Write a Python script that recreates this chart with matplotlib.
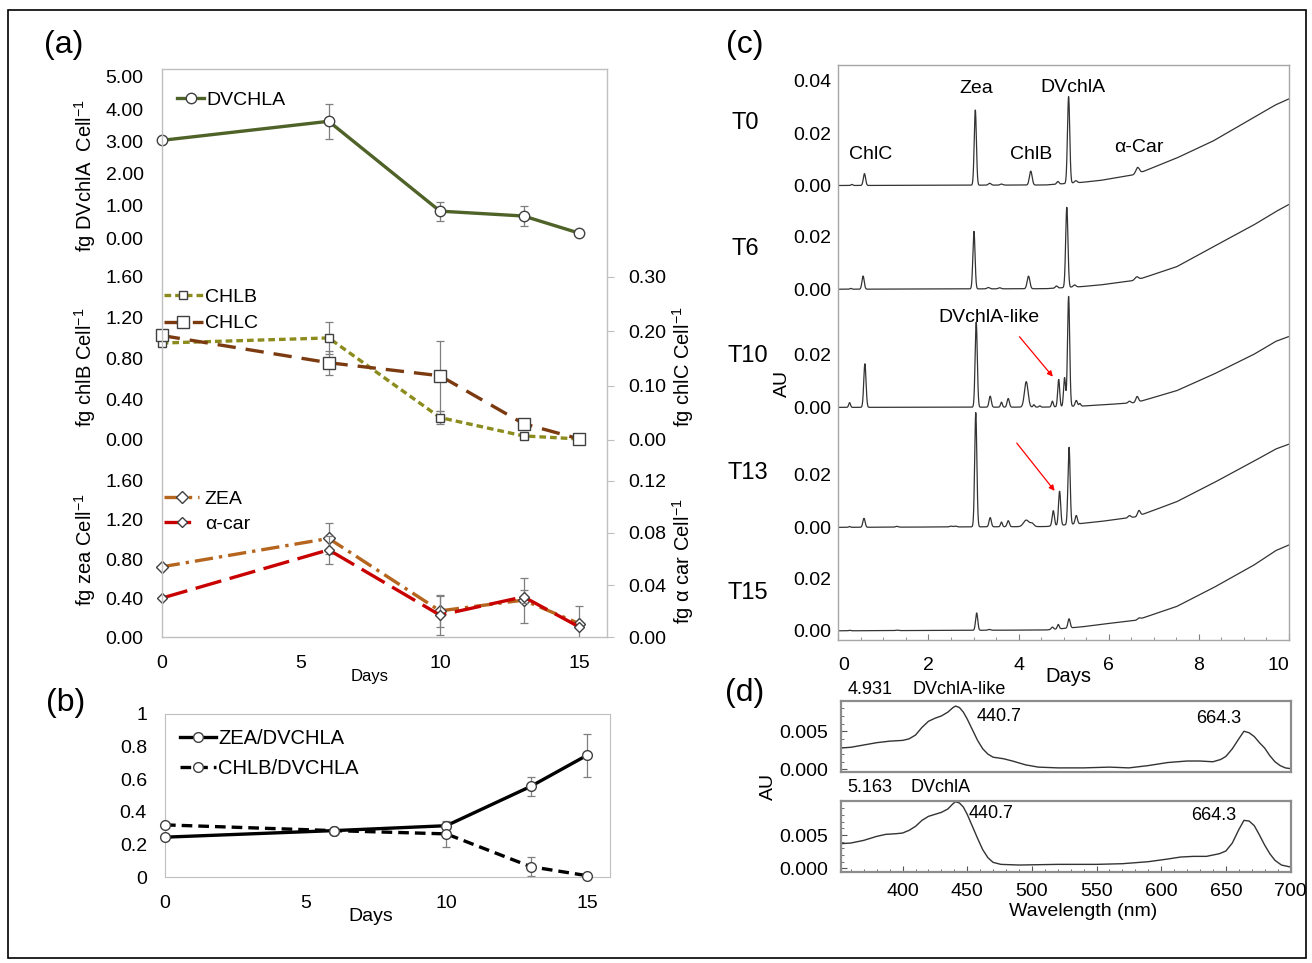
import numpy as np
import matplotlib
matplotlib.use('Agg')
import matplotlib.pyplot as plt
from matplotlib.patches import Rectangle

plt.rcParams['font.family'] = ['Liberation Sans', 'DejaVu Sans']
plt.rcParams['mathtext.fontset'] = 'custom'
plt.rcParams['mathtext.rm'] = 'Liberation Sans'
plt.rcParams['mathtext.it'] = 'Liberation Sans:italic'

# ---------------- data ----------------
days = [0, 6, 10, 13, 15]
dvchla = [3.03, 3.62, 0.84, 0.69, 0.16]
dvchla_err = [0, 0.55, 0.29, 0.31, 0]
chlb = [0.95, 1.00, 0.22, 0.04, 0.01]
chlb_err = [0, 0.16, 0.06, 0, 0]
chlc = [0.192, 0.142, 0.118, 0.030, 0.002]
chlc_err = [0, 0.022, 0.064, 0, 0]
zea = [0.72, 1.01, 0.27, 0.38, 0.14]
zea_err = [0, 0.16, 0.16, 0.23, 0.18]
acar = [0.030, 0.067, 0.017, 0.031, 0.008]
acar_err = [0, 0.011, 0.015, 0.005, 0]

ratio_zea = [0.245, 0.285, 0.315, 0.555, 0.745]
ratio_zea_err = [0, 0, 0, 0.056, 0.13]
ratio_chlb = [0.32, 0.285, 0.265, 0.065, 0.01]
ratio_chlb_err = [0, 0, 0.08, 0.057, 0]

# chromatograms: baseline points and peak tables (retention time, height, width)
base_t = [0, 4.6, 5.4, 5.8, 6.6, 7.5, 8.3, 9.2, 9.7, 10.0]
traces = ['T0', 'T6', 'T10', 'T13', 'T15']
base_v = {
    'T0': [0, 0.0002, 0.0012, 0.0019, 0.0042, 0.0104, 0.0168, 0.0257, 0.0307, 0.0330],
    'T6': [0, 0.0002, 0.0010, 0.0016, 0.0034, 0.0085, 0.0160, 0.0243, 0.0295, 0.0323],
    'T10': [0, 0.0001, 0.0005, 0.0009, 0.0018, 0.0063, 0.0124, 0.0200, 0.0251, 0.0270],
    'T13': [0, 0.0003, 0.0015, 0.0022, 0.0040, 0.0097, 0.0167, 0.0250, 0.0298, 0.0317],
    'T15': [0, 0.0003, 0.0015, 0.0024, 0.0040, 0.0092, 0.0162, 0.0248, 0.0305, 0.0327],
}
peak_t = {
    'T0': [0.30, 0.58, 3.04, 3.36, 3.62, 4.27, 4.87, 5.11, 5.27, 6.64],
    'T6': [0.28, 0.55, 3.01, 3.33, 3.58, 4.22, 4.84, 5.07, 5.24, 6.62],
    'T10': [0.25, 0.59, 3.06, 3.37, 3.62, 3.77, 4.17, 4.34, 4.47, 4.75, 4.89, 5.02, 5.11, 5.28, 5.36, 6.46, 6.63],
    'T13': [0.25, 0.57, 1.30, 2.50, 2.60, 3.05, 3.37, 3.62, 3.77, 4.17, 4.30, 4.77, 4.91, 5.12, 5.28, 6.46, 6.67],
    'T15': [0.25, 1.30, 3.07, 3.35, 4.75, 4.88, 5.12, 6.67],
}
peak_h = {
    'T0': [0.0004, 0.0045, 0.0286, 0.0007, 0.0004, 0.0053, 0.0010, 0.0330, 0.0008, 0.0024],
    'T6': [0.0003, 0.0050, 0.0219, 0.0005, 0.0004, 0.0048, 0.0008, 0.0305, 0.0008, 0.0012],
    'T10': [0.0018, 0.0166, 0.0324, 0.0042, 0.0019, 0.0033, 0.0097, 0.0009, 0.0005, 0.0022, 0.0104, 0.0110, 0.0419, 0.0022, 0.0010, 0.0007, 0.0022],
    'T13': [0.0003, 0.0034, 0.0003, 0.0003, 0.0003, 0.0435, 0.0035, 0.0018, 0.0023, 0.0025, 0.0012, 0.0058, 0.0130, 0.0294, 0.0032, 0.0008, 0.0020],
    'T15': [0.0002, 0.0002, 0.0066, 0.0003, 0.0009, 0.0017, 0.0035, 0.0005],
}
peak_w = {
    'T0': [0.02, 0.025, 0.024, 0.03, 0.03, 0.03, 0.025, 0.025, 0.03, 0.04],
    'T6': [0.02, 0.025, 0.024, 0.03, 0.03, 0.03, 0.025, 0.025, 0.03, 0.04],
    'T10': [0.02, 0.025, 0.024, 0.025, 0.02, 0.025, 0.04, 0.02, 0.02, 0.02, 0.022, 0.022, 0.024, 0.025, 0.02, 0.03, 0.03],
    'T13': [0.02, 0.025, 0.03, 0.03, 0.03, 0.024, 0.025, 0.02, 0.025, 0.06, 0.04, 0.025, 0.024, 0.024, 0.025, 0.03, 0.03],
    'T15': [0.02, 0.03, 0.024, 0.03, 0.025, 0.022, 0.025, 0.03],
}
trace_zero = {'T0': 0.1731, 'T6': 0.1336, 'T10': 0.0886, 'T13': 0.0429, 'T15': 0.0035}
trace_ticks = {'T0': [0, 0.02, 0.04], 'T6': [0, 0.02], 'T10': [0, 0.02], 'T13': [0, 0.02], 'T15': [0, 0.02]}

# spectra (wavelength nm, AU)
spec_like_wl = [352, 360, 370, 380, 390, 400, 405, 410, 415, 420, 425, 430, 435, 439, 441, 444, 447, 450,
                454, 458, 462, 466, 470, 478, 485, 495, 505, 520, 540, 560, 575, 590, 605, 620, 630, 640,
                646, 650, 655, 660, 664, 668, 672, 676, 680, 684, 688, 692, 696, 700]
spec_like = [0.0028, 0.0029, 0.0032, 0.0035, 0.0037, 0.0038, 0.0040, 0.0045, 0.0055, 0.0063, 0.0067, 0.0070,
             0.0075, 0.0081, 0.0083, 0.0081, 0.0075, 0.0066, 0.0052, 0.0038, 0.0027, 0.0020, 0.0016, 0.0014,
             0.0011, 0.0006, 0.0003, 0.0002, 0.0002, 0.0003, 0.0002, 0.0005, 0.0009, 0.0011, 0.0011, 0.0010,
             0.0013, 0.0017, 0.0027, 0.0040, 0.0050, 0.0048, 0.0043, 0.0035, 0.0028, 0.0018, 0.0010, 0.0005,
             0.0002, 0.0001]
spec_dv_wl = [352, 360, 370, 380, 387, 395, 400, 405, 410, 415, 420, 425, 430, 435, 439, 441, 444, 447, 450,
              454, 458, 462, 466, 470, 476, 490, 520, 550, 570, 590, 605, 615, 625, 635, 645, 650, 655, 660,
              664, 668, 672, 676, 680, 684, 688, 693, 700]
spec_dv = [0.0037, 0.0038, 0.0042, 0.0048, 0.0051, 0.0052, 0.0053, 0.0057, 0.0063, 0.0072, 0.0078, 0.0081,
           0.0084, 0.0089, 0.0097, 0.0100, 0.0098, 0.0092, 0.0081, 0.0063, 0.0045, 0.0028, 0.0016, 0.0009,
           0.0006, 0.0005, 0.0006, 0.0006, 0.0007, 0.0010, 0.0014, 0.0017, 0.0018, 0.0018, 0.0022, 0.0026,
           0.0038, 0.0058, 0.0072, 0.0071, 0.0064, 0.0050, 0.0035, 0.0022, 0.0012, 0.0005, 0.0002]

# ---------------- figure ----------------
W, H = 1312, 963
fig = plt.figure(figsize=(W / 100, H / 100), dpi=100)


def box(l, t, r, b, **kw):
    return fig.add_axes([l / W, 1 - b / H, (r - l) / W, (b - t) / H], **kw)


def ftext(x, y, s, **kw):
    kw.setdefault('ha', 'center')
    kw.setdefault('va', 'center')
    return fig.text(x / W, 1 - y / H, s, **kw)


fig.patches.append(Rectangle((8 / W, 1 - 958 / H), 1298 / W, 948 / H, transform=fig.transFigure,
                             fill=False, ec='black', lw=1.2))

GRAY = '#BFBFBF'
ERR = '#7F7F7F'
MEC = '#404040'
TFS = 14


def clean(ax):
    ax.set_facecolor('none')
    for s in ax.spines.values():
        s.set_visible(False)


def errs(ax, x, y, e, color=ERR):
    idx = [i for i, v in enumerate(e) if v > 0]
    ax.errorbar([x[i] for i in idx], [y[i] for i in idx], yerr=[e[i] for i in idx], fmt='none',
                ecolor=color, elinewidth=0.9, capsize=3, capthick=0.9, zorder=2)


# ---- panel (a) ----
aL, aR = 161.7, 607
ta = box(aL, 76.7, aR, 238.3)
ma = box(aL, 276.7, aR, 440)
ba = box(aL, 480.7, aR, 637.3)
for ax in (ta, ma, ba):
    clean(ax)
    ax.set_xlim(0, 16)
    ax.tick_params(axis='y', length=0, pad=13, labelsize=TFS)
ta.set_ylim(0, 5)
ta.set_yticks([0, 1, 2, 3, 4, 5])
ta.set_yticklabels([f'{v:.2f}' for v in [0, 1, 2, 3, 4, 5]])
ma.set_ylim(0, 1.6)
ba.set_ylim(0, 1.6)
for ax in (ma, ba):
    ax.set_yticks([0, 0.4, 0.8, 1.2, 1.6])
    ax.set_yticklabels([f'{v:.2f}' for v in [0, 0.4, 0.8, 1.2, 1.6]])
ta.set_xticks([])
ma.set_xticks([])
ba.set_xticks([0, 5, 10, 15])
ba.tick_params(axis='x', length=0, pad=13, labelsize=TFS)

errs(ta, days, dvchla, dvchla_err)
ta.plot(days, dvchla, color='#4F6228', lw=2.4, marker='o', ms=7.5, mfc='white', mec=MEC, mew=1,
        clip_on=False, label='DVCHLA', zorder=3)
ta.legend(loc='upper left', bbox_to_anchor=(177 / W, 1 - 91.5 / H), bbox_transform=fig.transFigure,
          frameon=False, fontsize=14, handlelength=1.4, handletextpad=0.1, borderpad=0, borderaxespad=0)

mr = ma.twinx()
clean(mr)
mr.set_ylim(0, 0.30)
mr.set_yticks([0, 0.1, 0.2, 0.3])
mr.set_yticklabels([f'{v:.2f}' for v in [0, 0.1, 0.2, 0.3]])
mr.tick_params(axis='y', length=5, color=GRAY, pad=10, labelsize=TFS)
errs(ma, days, chlb, chlb_err)
errs(mr, days, chlc, chlc_err)
l1, = ma.plot(days, chlb, color='#8C8C1E', lw=2.4, dashes=(2.0, 1.2), marker='s', ms=5.5, mfc='white',
              mec=MEC, mew=1, clip_on=False, label='CHLB', zorder=3)
l2, = mr.plot(days, chlc, color='#7B3A10', lw=2.4, dashes=(5.5, 3.0), marker='s', ms=8.5, mfc='white',
              mec=MEC, mew=1, clip_on=False, label='CHLC', zorder=3)
mr.legend([l1, l2], ['CHLB', 'CHLC'], loc='upper left', bbox_to_anchor=(164 / W, 1 - 288.5 / H),
          bbox_transform=fig.transFigure, frameon=False, fontsize=14, handlelength=2.0, handletextpad=0.1,
          labelspacing=0.45, borderpad=0, borderaxespad=0)

br = ba.twinx()
clean(br)
br.set_ylim(0, 0.12)
br.set_yticks([0, 0.04, 0.08, 0.12])
br.set_yticklabels([f'{v:.2f}' for v in [0, 0.04, 0.08, 0.12]])
br.tick_params(axis='y', length=5, color=GRAY, pad=10, labelsize=TFS)
errs(ba, days, zea, zea_err)
errs(br, days, acar, acar_err)
l3, = ba.plot(days, zea, color='#B5651D', lw=2.4, dashes=(5.5, 1.8, 1.0, 1.8), marker='D', ms=6.6,
              mfc='white', mec=MEC, mew=1, clip_on=False, label='ZEA', zorder=3)
l4, = br.plot(days, acar, color='#C80000', lw=2.4, dashes=(8, 2.6), marker='D', ms=4.8, mfc='white',
              mec=MEC, mew=1, clip_on=False, label='α-car', zorder=3)
br.legend([l3, l4], ['ZEA', 'α-car'], loc='upper left', bbox_to_anchor=(164 / W, 1 - 490.5 / H),
          bbox_transform=fig.transFigure, frameon=False, fontsize=14, handlelength=1.8, handletextpad=0.3,
          labelspacing=0.35, borderpad=0, borderaxespad=0)

afr = box(aL, 69, aR, 637.3)
afr.set_facecolor('none')
afr.set_xticks([])
afr.set_yticks([])
for s in afr.spines.values():
    s.set_color(GRAY)
    s.set_linewidth(1.0)

YFS = 14.5
ftext(85, 175, 'fg DVchlA  Cell$^{\\mathrm{-1}}$', rotation=90, fontsize=YFS)
ftext(85, 367, 'fg chlB Cell$^{\\mathrm{-1}}$', rotation=90, fontsize=YFS)
ftext(85, 550, 'fg zea Cell$^{\\mathrm{-1}}$', rotation=90, fontsize=YFS)
ftext(683, 367, 'fg chlC Cell$^{\\mathrm{-1}}$', rotation=90, fontsize=YFS)
ftext(683, 561, 'fg α car Cell$^{\\mathrm{-1}}$', rotation=90, fontsize=YFS)
ftext(370, 676, 'Days', fontsize=12)
ftext(64, 45, '(a)', fontsize=23)

# ---- panel (b) ----
bx = box(165, 713.5, 609.5, 877.3)
bx.set_facecolor('none')
bx.set_xlim(0, 15.8)
bx.set_ylim(0, 1)
for s in bx.spines.values():
    s.set_color(GRAY)
bx.set_xticks([0, 5, 10, 15])
bx.set_yticks([0, 0.2, 0.4, 0.6, 0.8, 1.0])
bx.set_yticklabels(['0', '0.2', '0.4', '0.6', '0.8', '1'])
bx.tick_params(axis='both', length=0, labelsize=TFS)
bx.tick_params(axis='y', pad=13)
bx.tick_params(axis='x', pad=13)
errs(bx, days, ratio_zea, ratio_zea_err)
errs(bx, days, ratio_chlb, ratio_chlb_err)
bx.plot(days, ratio_zea, color='black', lw=2.4, marker='o', ms=7, mfc='white', mec=MEC, mew=1,
        clip_on=False, label='ZEA/DVCHLA', zorder=3)
bx.plot(days, ratio_chlb, color='black', lw=2.4, dashes=(3.2, 1.8), marker='o', ms=7, mfc='white', mec=MEC,
        mew=1, clip_on=False, label='CHLB/DVCHLA', zorder=3)
bx.legend(loc='upper left', bbox_to_anchor=(180 / W, 1 - 729 / H), bbox_transform=fig.transFigure,
          frameon=False, fontsize=14.5, handlelength=1.8, handletextpad=0.1, labelspacing=0.55, borderpad=0,
          borderaxespad=0)
ftext(371, 916, 'Days', fontsize=14)
ftext(66, 703, '(b)', fontsize=23)

# ---- panel (c) ----
cx = box(838.3, 65, 1289, 640)
cx.set_xlim(0, 10)
cx.set_ylim(0, 0.219)
for s in cx.spines.values():
    s.set_color('#A6A6A6')
    s.set_linewidth(1.0)
t = np.linspace(0, 10, 5001)
yt, yl = [], []
for name in traces:
    sig = np.interp(t, base_t, base_v[name])
    for p, h, w in zip(peak_t[name], peak_h[name], peak_w[name]):
        sig = sig + h * np.exp(-0.5 * ((t - p) / w) ** 2)
    cx.plot(t, trace_zero[name] + sig, color='#333333', lw=0.9)
    for v in trace_ticks[name]:
        yt.append(trace_zero[name] + v)
        yl.append(f'{v:.2f}')
cx.set_yticks(yt)
cx.set_yticklabels(yl)
cx.tick_params(axis='y', length=0, pad=5, labelsize=TFS)
cx.set_xticks([0, 2, 4, 6, 8, 10])
cx.set_xticks(np.arange(0, 10.01, 0.5), minor=True)
cx.tick_params(axis='x', which='both', direction='in', color='#808080', labelsize=TFS, pad=12)
cx.tick_params(axis='x', which='major', length=4)
cx.tick_params(axis='x', which='minor', length=2.5)
xl = cx.get_xticklabels()
xl[0].set_ha('left')
xl[-1].set_ha('right')

AFS = 14
cx.text(0.71, 0.1848, 'ChlC', ha='center', va='center', fontsize=AFS)
cx.text(3.07, 0.2100, 'Zea', ha='center', va='center', fontsize=AFS)
cx.text(4.28, 0.1848, 'ChlB', ha='center', va='center', fontsize=AFS)
cx.text(5.21, 0.2103, 'DVchlA', ha='center', va='center', fontsize=AFS)
cx.text(6.68, 0.1874, 'α-Car', ha='center', va='center', fontsize=AFS)
cx.text(3.35, 0.1230, 'DVchlA-like', ha='center', va='center', fontsize=AFS)
cx.annotate('', xy=(4.76, 0.1003), xytext=(4.02, 0.1155),
            arrowprops=dict(arrowstyle='-|>', color='red', lw=0.9, mutation_scale=8, shrinkA=0, shrinkB=0))
cx.annotate('', xy=(4.80, 0.0568), xytext=(3.96, 0.0750),
            arrowprops=dict(arrowstyle='-|>', color='red', lw=0.9, mutation_scale=8, shrinkA=0, shrinkB=0))

for name, (x, y) in zip(traces, [(745, 123), (745, 249), (748, 356), (748, 473), (748, 593)]):
    ftext(x, y, name, fontsize=17)
ftext(782, 383, 'AU', rotation=90, fontsize=14)
ftext(1068, 676, 'Days', fontsize=14.5)
ftext(745, 45, '(c)', fontsize=23)

# ---- panel (d) ----
dL, dR = 840.5, 1290.5
dt = box(dL, 700.7, dR, 771.7)
db = box(dL, 800.7, dR, 871.7)
dt.set_ylim(-0.0003, 0.00889)
db.set_ylim(-0.0005, 0.01015)
for ax, wl, sp in ((dt, spec_like_wl, spec_like), (db, spec_dv_wl, spec_dv)):
    ax.set_xlim(352, 700)
    ax.plot(wl, sp, color='#333333', lw=1.0)
    for s in ax.spines.values():
        s.set_color('#8C8C8C')
        s.set_linewidth(1.6)
    ax.set_yticks([0, 0.005])
    ax.set_yticklabels(['0.000', '0.005'])
    ax.set_yticks(np.arange(0, 0.0096, 0.001), minor=True)
    ax.tick_params(axis='y', which='both', direction='in', color='#555555', labelsize=TFS, pad=9)
    ax.tick_params(axis='y', which='major', length=4)
    ax.tick_params(axis='y', which='minor', length=2.5)
dt.set_xticks([])
db.set_xticks([400, 450, 500, 550, 600, 650, 700])
db.set_xticks(np.arange(360, 701, 10), minor=True)
db.tick_params(axis='x', which='both', direction='in', color='#555555', labelsize=TFS, pad=8)
db.tick_params(axis='x', which='major', length=4)
db.tick_params(axis='x', which='minor', length=2.5)

ftext(870, 689, '4.931', fontsize=13)
ftext(959, 689, 'DVchlA-like', fontsize=13)
ftext(999, 716, '440.7', fontsize=13)
ftext(1219, 718, '664.3', fontsize=13)
ftext(870, 787, '5.163', fontsize=13)
ftext(941, 787, 'DVchlA', fontsize=13)
ftext(991, 814, '440.7', fontsize=13)
ftext(1214, 815, '664.3', fontsize=13)
ftext(768, 786, 'AU', rotation=90, fontsize=14)
ftext(1083, 911, 'Wavelength (nm)', fontsize=14)
ftext(745, 693, '(d)', fontsize=23)

fig.savefig('out.png', dpi=100)
